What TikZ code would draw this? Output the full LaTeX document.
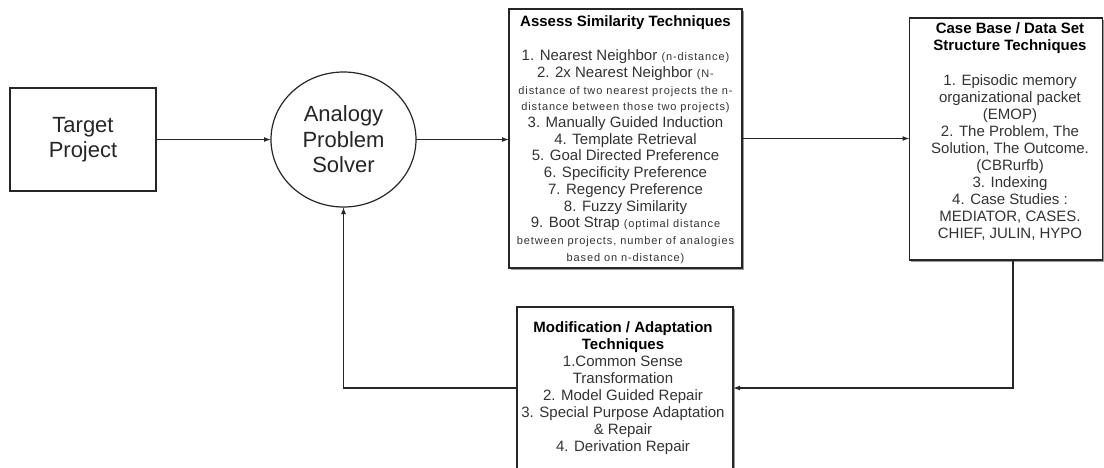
\documentclass[tikz,border=0pt]{standalone}
\usepackage{fontspec}
\setmainfont{Liberation Sans}
\newfontfamily\notefont[LetterSpace=8]{Liberation Sans}
\usetikzlibrary{shapes.geometric,arrows.meta,shadows}
% small print used for the parenthetical remarks
\newcommand\smalltxt{\notefont\fontsize{11}{17}\selectfont}

\begin{document}
\begin{tikzpicture}[x=1pt,y=-1pt,
  box/.style={draw=black!85,line width=1.6pt,inner sep=0pt,outer sep=0pt},
  listbox/.style={box,fill=white,
    drop shadow={shadow xshift=1.8pt,shadow yshift=-1.8pt,fill=black!40,opacity=1}},
  boxtext/.style={inner sep=0pt,align=center,text=black!80,font=\fontsize{15}{16.7}\selectfont},
  flow/.style={draw=black!85,line width=1.3pt,-{Latex[length=7pt,width=5pt]}}]

\useasboundingbox (0,0) rectangle (1104,467);
\clip (0,0) rectangle (1104,467);
\fill[white] (0,0) rectangle (1104,467);

% target project
\node[box,minimum width=146pt,minimum height=103pt,align=center,
      text=black!85,font=\fontsize{22}{25}\selectfont] (target) at (83,139.5) {Target\\Project};

% analogy problem solver
\node[draw=black!85,ellipse,line width=1.2pt,minimum width=145pt,minimum height=135pt,
      inner sep=0pt,outer sep=0pt,align=center,text=black!85,
      font=\fontsize{22}{25.5}\selectfont] (solver) at (343.5,139.5) {Analogy\\Problem\\Solver};

% assess similarity techniques
\node[listbox,minimum width=233pt,minimum height=259pt] (assess) at (625.5,138.5) {};
\node[boxtext,anchor=north] (assesstext) at (625.5,15) {%
  \textcolor{black}{\textbf{Assess Similarity Techniques}}\\[18pt]
  1. Nearest Neighbor {\smalltxt(n-distance)}\\
  2. 2x Nearest Neighbor {\smalltxt(N-}\\
  {\smalltxt distance of two nearest projects the n-}\\
  {\smalltxt distance between those two projects)}\\
  3. Manually Guided Induction\\
  4. Template Retrieval\\
  5. Goal Directed Preference\\
  6. Specificity Preference\\
  7. Regency Preference\\
  8. Fuzzy Similarity\\
  9. Boot Strap {\smalltxt(optimal distance}\\
  {\smalltxt between projects, number of analogies}\\
  {\smalltxt based on n-distance)}};

% case base / data set structure techniques
\node[listbox,minimum width=193pt,minimum height=242pt] (case) at (1006,139) {};
\node[boxtext,anchor=north,font=\fontsize{15}{17}\selectfont] (casetext) at (1010,22.5) {%
  \textcolor{black}{\textbf{Case Base / Data Set}}\\
  \textcolor{black}{\textbf{Structure Techniques}}\\[18pt]
  1. Episodic memory\\
  organizational packet\\
  (EMOP)\\
  2. The Problem, The\\
  Solution, The Outcome.\\
  (CBRurfb)\\
  3. Indexing\\
  4. Case Studies :\\
  MEDIATOR, CASES.\\
  CHIEF, JULIN, HYPO};

% modification / adaptation techniques
\node[listbox,minimum width=216pt,minimum height=162pt] (mod) at (625,388) {};
\node[boxtext,anchor=north,font=\fontsize{15}{17}\selectfont] (modtext) at (623,321) {%
  \textcolor{black}{\textbf{Modification / Adaptation}}\\
  \textcolor{black}{\textbf{Techniques}}\\
  1.Common Sense\\
  Transformation\\
  2. Model Guided Repair\\
  3. Special Purpose Adaptation\\
  \& Repair\\
  4. Derivation Repair};

% connectors
\draw[flow] (target.east) -- (solver.west);
\draw[flow] (solver.east) -- (solver.east -| assess.west);
\draw[flow] (assess.east) -- (assess.east -| case.west);
\draw[flow] ([xshift=7pt]case.south) |- (mod.east);
\draw[flow] (mod.west) -| (solver.south);
\end{tikzpicture}
\end{document}
